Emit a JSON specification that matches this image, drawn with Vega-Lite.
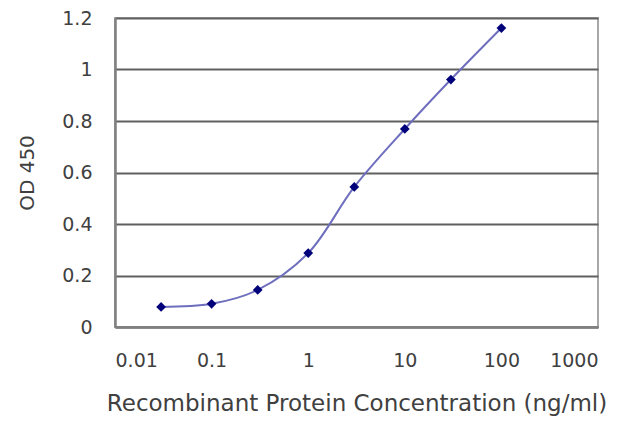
{
  "$schema": "https://vega.github.io/schema/vega-lite/v6.json",
  "autosize": "none",
  "width": 483,
  "height": 309,
  "padding": {"left": 115, "top": 18, "right": 42, "bottom": 100},
  "background": "white",
  "data": {
    "values": [
      {"conc": 0.03, "od": 0.078},
      {"conc": 0.1, "od": 0.090},
      {"conc": 0.3, "od": 0.144},
      {"conc": 1, "od": 0.287},
      {"conc": 3, "od": 0.544},
      {"conc": 10, "od": 0.769},
      {"conc": 30, "od": 0.961},
      {"conc": 100, "od": 1.161}
    ]
  },
  "encoding": {
    "x": {
      "field": "conc",
      "type": "quantitative",
      "scale": {"type": "log", "domain": [0.01, 1000], "nice": false},
      "axis": {
        "title": "Recombinant Protein Concentration (ng/ml)",
        "values": [0.01, 0.1, 1, 10, 100, 1000],
        "labelExpr": "'' + datum.value",
        "grid": false,
        "ticks": false,
        "labelPadding": 24,
        "titlePadding": 22,
        "titleFontSize": 23
      }
    },
    "y": {
      "field": "od",
      "type": "quantitative",
      "scale": {"domain": [0, 1.2], "nice": false},
      "axis": {
        "title": "OD 450",
        "values": [0, 0.2, 0.4, 0.6, 0.8, 1, 1.2],
        "format": "~g",
        "ticks": false,
        "labelPadding": 23,
        "titlePadding": 24,
        "titleFontSize": 20
      }
    }
  },
  "layer": [
    {
      "mark": {"type": "line", "interpolate": "catmull-rom", "color": "#6e6ebe", "strokeWidth": 2}
    },
    {
      "mark": {"type": "point", "shape": "diamond", "filled": true, "color": "#00007a", "opacity": 1, "size": 95}
    }
  ],
  "config": {
    "font": "DejaVu Sans",
    "view": {"stroke": "#a8a8a8", "strokeWidth": 2},
    "axis": {
      "labelFont": "DejaVu Sans",
      "titleFont": "DejaVu Sans",
      "labelFontSize": 19,
      "labelColor": "#404040",
      "titleColor": "#404040",
      "titleFontWeight": "normal",
      "domainColor": "#808080",
      "domainWidth": 2.5,
      "gridColor": "#606060",
      "gridWidth": 2,
      "gridOpacity": 1
    }
  }
}
